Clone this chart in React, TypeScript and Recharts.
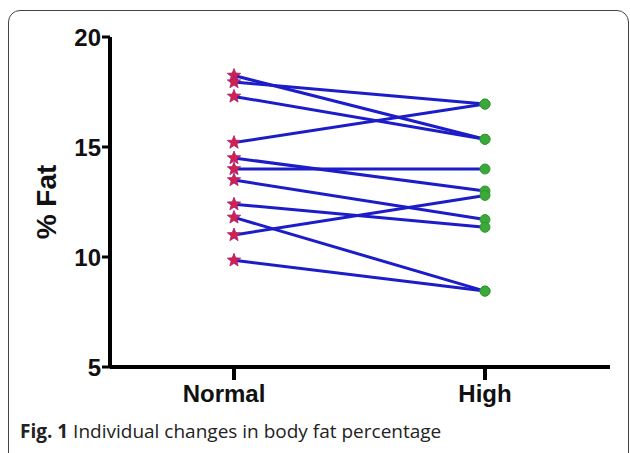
import { LineChart, Line, XAxis, YAxis } from 'recharts';

const categories = ['Normal', 'High'];
const normalFat = [18.25, 17.95, 17.3, 15.2, 14.5, 14.0, 13.5, 12.4, 11.8, 11.0, 9.85];
const highFat = [15.35, 16.95, 15.35, 16.95, 13.0, 14.0, 11.7, 11.35, 8.45, 12.8, 8.45];
const yTicks = [5, 10, 15, 20];

const data = categories.map((group, ci) => {
  const row: Record<string, string | number> = { group };
  normalFat.forEach((v, i) => {
    row[`s${i}`] = ci === 0 ? v : highFat[i];
  });
  return row;
});

const AXIS_FONT = '"Liberation Sans", Arial, sans-serif';

function starPath(cx: number, cy: number, outer: number, inner: number) {
  let d = '';
  for (let k = 0; k < 10; k++) {
    const r = k % 2 === 0 ? outer : inner;
    const a = -Math.PI / 2 + (k * Math.PI) / 5;
    d += `${k === 0 ? 'M' : 'L'}${cx + r * Math.cos(a)},${cy + r * Math.sin(a)}`;
  }
  return d + 'Z';
}

function Marker(props: any) {
  const { cx, cy, index } = props;
  if (cx == null || cy == null) return <g />;
  if (index === 0) {
    return <path d={starPath(cx, cy, 7, 3)} fill="#d4204e" stroke="#a02070" strokeWidth={0.8} />;
  }
  return <circle cx={cx} cy={cy} r={5} fill="#3aa83a" stroke="#2e9a2e" strokeWidth={1} />;
}

// the Normal label sits a little left of its tick in the original
function GroupTick(props: any) {
  const { x, y, payload } = props;
  const shift = payload.value === 'Normal' ? -10 : 0;
  return (
    <text
      x={x + shift}
      y={y}
      dy="0.71em"
      textAnchor="middle"
      fill="#111"
      fontSize={24}
      fontWeight="bold"
      fontFamily={AXIS_FONT}
    >
      {payload.value}
    </text>
  );
}

function FatLabel(props: any) {
  const vb = props.viewBox || {};
  const x = vb.x + 36;
  const y = vb.y + vb.height / 2;
  return (
    <text
      x={x}
      y={y}
      transform={`rotate(-90 ${x} ${y})`}
      textAnchor="middle"
      dominantBaseline="central"
      fontFamily={AXIS_FONT}
      fontWeight="bold"
      fontSize={28}
      fill="#111"
    >
      % Fat
    </text>
  );
}

export default function App() {
  return (
    <div style={{ position: 'absolute', left: 0, top: 0, width: 630, height: 453, overflow: 'hidden', background: '#fff' }}>
      <div
        style={{
          position: 'absolute',
          left: 8,
          top: 10,
          width: 621,
          height: 455,
          border: '1.5px solid #444',
          borderRadius: 12,
          boxSizing: 'border-box',
        }}
      />
      <div style={{ position: 'absolute', left: 0, top: 0 }}>
        <LineChart width={630} height={453} data={data} margin={{ top: 37, right: 20, bottom: 46, left: 10 }}>
          <XAxis
            dataKey="group"
            height={40}
            padding={{ left: 124, right: 125 }}
            axisLine={{ stroke: '#000', strokeWidth: 4 }}
            tickLine={{ stroke: '#000', strokeWidth: 4 }}
            tickSize={13}
            tickMargin={5}
            tick={GroupTick}
          />
          <YAxis
            width={100}
            domain={[5, 20]}
            ticks={yTicks}
            interval={0}
            axisLine={{ stroke: '#000', strokeWidth: 4 }}
            tickLine={{ stroke: '#000', strokeWidth: 3 }}
            tickSize={8}
            tickMargin={1}
            tick={{ fill: '#111', fontSize: 24, fontWeight: 'bold', fontFamily: AXIS_FONT }}
            label={{ content: FatLabel }}
          />
          {normalFat.map((_, i) => (
            <Line
              key={i}
              dataKey={`s${i}`}
              stroke="#1c1cc8"
              strokeWidth={3}
              dot={Marker}
              activeDot={false}
              isAnimationActive={false}
            />
          ))}
        </LineChart>
      </div>
      <div
        style={{
          position: 'absolute',
          left: 20,
          top: 418,
          fontFamily: '"Open Sans", sans-serif',
          fontSize: 19,
          color: '#222',
          whiteSpace: 'nowrap',
        }}
      >
        <b>Fig. 1</b> Individual changes in body fat percentage
      </div>
    </div>
  );
}
